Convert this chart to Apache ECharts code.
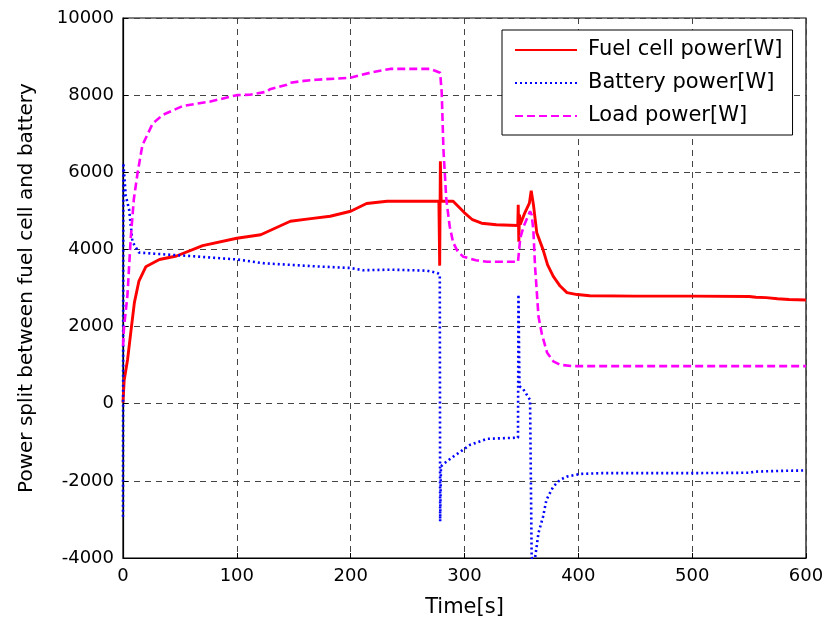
<!DOCTYPE html>
<html>
<head>
<meta charset="utf-8">
<script src="https://cdn.jsdelivr.net/npm/echarts@6/dist/echarts.min.js"></script>
<style>
html,body{margin:0;padding:0;background:#fff;}
#chart{width:828px;height:625px;}
</style>
</head>
<body>
<div id="chart"></div>
<script>
// ---- data ----
var fcTime  = [0, 1, 4, 7, 10, 14, 20, 32, 47, 70, 100, 121, 147, 165, 182, 200, 214, 232, 277.5, 278.2, 278.8, 279.5, 290, 295, 300, 307, 315, 328, 346.8, 347.2, 347.7, 348.3, 349, 353, 357, 358.6, 360.6, 363.5, 369, 373, 378, 384, 390, 399, 410, 450, 500, 550, 556, 565, 575, 585, 600];
var fcPower = [30, 600, 1140, 1890, 2620, 3180, 3550, 3740, 3830, 4100, 4290, 4380, 4730, 4800, 4860, 4990, 5190, 5250, 5250, 3580, 6285, 5250, 5250, 5100, 4950, 4770, 4680, 4640, 4620, 5160, 4200, 4900, 4650, 4950, 5200, 5520, 5150, 4430, 3995, 3600, 3300, 3050, 2880, 2830, 2800, 2790, 2790, 2780, 2760, 2750, 2720, 2700, 2690];

var batTime  = [0, 0.3, 2.4, 5.4, 8.3, 14, 32, 58.6, 100, 124, 147, 170, 199.5, 211, 234.6, 267, 276, 278.3, 278.6, 279.3, 282, 290, 305, 320, 347, 347.4, 348.3, 351.5, 357.6, 359, 362, 365, 369, 372, 378, 384, 390, 402, 420, 500, 550, 556, 580, 600];
var batPower = [-2930, 6240, 5400, 5030, 4200, 3920, 3880, 3830, 3740, 3640, 3600, 3560, 3520, 3460, 3475, 3450, 3390, 3350, -3050, -1625, -1550, -1375, -1065, -910, -880, 2830, 450, 380, 100, -4000, -4000, -3350, -2930, -2490, -2150, -1970, -1890, -1820, -1800, -1800, -1790, -1760, -1740, -1730];

var loadTime  = [0, 0.9, 3.9, 6.8, 9.5, 12.7, 17, 26, 35, 52.6, 76, 100, 111.6, 126.5, 129, 144, 147, 159, 170, 199.5, 217, 234.6, 270, 278.6, 280, 281.5, 284, 287, 290, 294, 299, 310, 320, 347, 349, 352, 357.6, 359, 360.5, 362, 365, 368, 372.6, 378, 384, 395, 600];
var loadPower = [1500, 1980, 2810, 4290, 5300, 5960, 6700, 7260, 7490, 7720, 7830, 8000, 8010, 8090, 8150, 8270, 8320, 8370, 8400, 8450, 8580, 8680, 8680, 8580, 8060, 6590, 5300, 4600, 4180, 3950, 3810, 3720, 3680, 3680, 4300, 4600, 4990, 4900, 4500, 3550, 2260, 1800, 1320, 1100, 1010, 975, 975];

var xTicks = [0, 100, 200, 300, 400, 500, 600];
var yTicks = [-4000, -2000, 0, 2000, 4000, 6000, 8000, 10000];
var seriesNames = ['Fuel cell power[W]', 'Battery power[W]', 'Load power[W]'];

function zip(a, b) { return a.map(function (t, i) { return [t, b[i]]; }); }

var FONT = 'DejaVu Sans, Liberation Sans, Arial, sans-serif';
var chart = echarts.init(document.getElementById('chart'), null, {renderer: 'canvas'});
var option = {
  animation: false,
  backgroundColor: '#fff',
  grid: {left: 123, right: 22, top: 18, bottom: 67, show: true, borderColor: '#000', borderWidth: 1.2, backgroundColor: 'transparent'},
  legend: {
    data: seriesNames,
    left: 502, top: 30, orient: 'vertical',
    itemWidth: 62, itemHeight: 14, itemGap: 11,
    padding: [9, 10, 8, 12],
    borderColor: '#000', borderWidth: 1, backgroundColor: '#fff',
    itemStyle: {opacity: 0},
    textStyle: {fontFamily: FONT, fontSize: 21, color: '#000', lineHeight: 22, padding: [0, 0, 0, 6]}
  },
  xAxis: {
    type: 'value', min: xTicks[0], max: xTicks[xTicks.length - 1], interval: 100,
    name: 'Time[s]', nameLocation: 'middle', nameGap: 39,
    nameTextStyle: {fontFamily: FONT, fontSize: 21, color: '#000'},
    axisLine: {show: true, onZero: false, lineStyle: {color: '#000', width: 1.2}},
    axisTick: {show: true, inside: true, length: 5, lineStyle: {color: '#000'}},
    axisLabel: {fontFamily: FONT, fontSize: 18, color: '#000', margin: 9, formatter: function (v) { return String(v); }},
    splitLine: {show: true, lineStyle: {color: '#444', width: 1, type: [6, 5]}}
  },
  yAxis: {
    type: 'value', min: yTicks[0], max: yTicks[yTicks.length - 1], interval: 2000,
    name: 'Power split between fuel cell and battery', nameLocation: 'middle', nameGap: 86,
    nameTextStyle: {fontFamily: FONT, fontSize: 20, color: '#000'},
    axisLine: {show: true, onZero: false, lineStyle: {color: '#000', width: 1.2}},
    axisTick: {show: true, inside: true, length: 5, lineStyle: {color: '#000'}},
    axisLabel: {fontFamily: FONT, fontSize: 18, color: '#000', margin: 9, formatter: function (v) { return String(v); }},
    splitLine: {show: true, lineStyle: {color: '#444', width: 1, type: [6, 5]}}
  },
  series: [
    {name: seriesNames[0], type: 'line', data: zip(fcTime, fcPower), symbol: 'none', showSymbol: false,
     lineStyle: {color: '#ff0000', width: 2.9, type: 'solid'}, itemStyle: {color: '#ff0000'}},
    {name: seriesNames[1], type: 'line', data: zip(batTime, batPower), symbol: 'none', showSymbol: false,
     lineStyle: {color: '#0000ff', width: 2.6, type: [2, 3]}, itemStyle: {color: '#0000ff'}},
    {name: seriesNames[2], type: 'line', data: zip(loadTime, loadPower), symbol: 'none', showSymbol: false,
     lineStyle: {color: '#ff00ff', width: 2.6, type: [8, 4]}, itemStyle: {color: '#ff00ff'}}
  ]
};
chart.setOption(option);
</script>
</body>
</html>
